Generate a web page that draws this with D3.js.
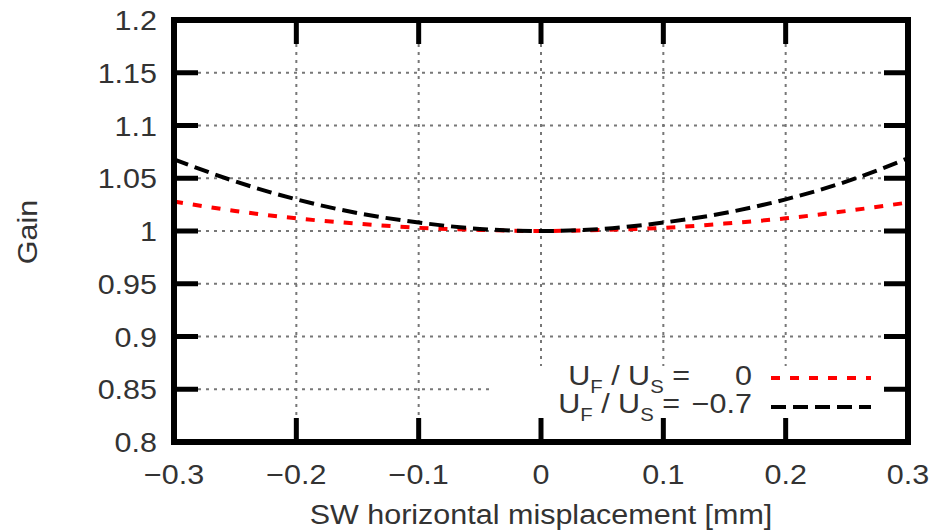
<!DOCTYPE html>
<html>
<head>
<meta charset="utf-8">
<script src="https://cdn.jsdelivr.net/npm/d3@7"></script>
<style>
  body { margin: 0; background: #fff; }
  text { font-family: "Liberation Sans", Arial, sans-serif; fill: #333; }
</style>
</head>
<body>
<svg id="chart" width="934" height="531"></svg>
<script>
// values
var xs = [-0.3, -0.25, -0.2, -0.15, -0.1, -0.05, 0, 0.05, 0.1, 0.15, 0.2, 0.25, 0.3];
var gainRed = [1.028, 1.019, 1.012, 1.007, 1.003, 1.001, 1.000, 1.001, 1.003, 1.007, 1.012, 1.019, 1.027];
var gainBlack = [1.068, 1.047, 1.030, 1.017, 1.008, 1.002, 1.000, 1.002, 1.008, 1.017, 1.030, 1.047, 1.069];
var xTicks = [-0.3, -0.2, -0.1, 0, 0.1, 0.2, 0.3];
var yTicks = [0.8, 0.85, 0.9, 0.95, 1, 1.05, 1.1, 1.15, 1.2];
var legendValues = ["0", "\u22120.7"];

var pL = 174, pR = 908, pT = 20, pB = 442;
var sx = 1.13; // reference glyphs are a little stretched sideways

var svg = d3.select("#chart");

var x = d3.scaleLinear().domain([-0.3, 0.3]).range([pL, pR]);
var y = d3.scaleLinear().domain([0.8, 1.2]).range([pB, pT]);

var fmt = function(v) { return v < 0 ? "\u2212" + Math.abs(v) : String(v); };

function label(px, py, str, anchor) {
  return svg.append("g")
    .attr("transform", "translate(" + px + "," + py + ") scale(" + sx + ",1)")
    .append("text")
    .attr("text-anchor", anchor)
    .attr("font-size", 27)
    .text(str);
}

// grid
var grid = svg.append("g")
  .attr("stroke", "#777")
  .attr("stroke-width", 2)
  .attr("stroke-dasharray", "3,5");

grid.selectAll("line.gx")
  .data(xTicks.slice(1, -1))
  .enter().append("line")
  .attr("x1", d => x(d)).attr("x2", d => x(d))
  .attr("y1", pT).attr("y2", pB);

grid.selectAll("line.gy")
  .data(yTicks.slice(1, -1))
  .enter().append("line")
  .attr("x1", pL).attr("x2", pR)
  .attr("y1", d => y(d)).attr("y2", d => y(d));

// curves
var line = d3.line()
  .x((d, i) => x(xs[i]))
  .y(d => y(d))
  .curve(d3.curveMonotoneX);

svg.append("path")
  .attr("d", line(gainRed))
  .attr("fill", "none")
  .attr("stroke", "#ff0000")
  .attr("stroke-width", 4)
  .attr("stroke-dasharray", "9,10");

svg.append("path")
  .attr("d", line(gainBlack))
  .attr("fill", "none")
  .attr("stroke", "#000")
  .attr("stroke-width", 4)
  .attr("stroke-dasharray", "15,7");

// legend box (opaque)
svg.append("rect")
  .attr("x", 494).attr("y", 366)
  .attr("width", pR - 494).attr("height", pB - 366)
  .attr("fill", "#fff");

var rows = [
  {ty: 385, ly: 378, labelEnd: 690, color: "#ff0000", dash: "9,10"},
  {ty: 413, ly: 407, labelEnd: 680, color: "#000", dash: "15,7"}
];

rows.forEach(function(r, i) {
  var t = label(r.labelEnd, r.ty, null, "end");
  t.append("tspan").text("U");
  t.append("tspan").attr("font-size", 18).attr("dy", 8).text("F");
  t.append("tspan").attr("dy", -8).text(" / U");
  t.append("tspan").attr("font-size", 18).attr("dy", 8).text("S");
  t.append("tspan").attr("dy", -8).text(" =");

  label(752, r.ty, legendValues[i], "end");

  svg.append("line")
    .attr("x1", 771).attr("x2", 871)
    .attr("y1", r.ly).attr("y2", r.ly)
    .attr("stroke", r.color)
    .attr("stroke-width", 4)
    .attr("stroke-dasharray", r.dash);
});

// ticks (inward on all four sides)
var tl = 24;
var ticks = svg.append("g").attr("stroke", "#000").attr("stroke-width", 5);

xTicks.forEach(function(d) {
  ticks.append("line").attr("x1", x(d)).attr("x2", x(d)).attr("y1", pB).attr("y2", pB - tl);
  ticks.append("line").attr("x1", x(d)).attr("x2", x(d)).attr("y1", pT).attr("y2", pT + tl);
});
yTicks.forEach(function(d) {
  ticks.append("line").attr("x1", pL).attr("x2", pL + tl).attr("y1", y(d)).attr("y2", y(d));
  ticks.append("line").attr("x1", pR).attr("x2", pR - tl).attr("y1", y(d)).attr("y2", y(d));
});

// frame
svg.append("rect")
  .attr("x", pL).attr("y", pT)
  .attr("width", pR - pL).attr("height", pB - pT)
  .attr("fill", "none")
  .attr("stroke", "#000")
  .attr("stroke-width", 6);

// tick labels
xTicks.forEach(function(d) { label(x(d), 484, fmt(d), "middle"); });
yTicks.forEach(function(d) { label(157, y(d) + 10, fmt(d), "end"); });

// axis titles
label(541, 524, "SW horizontal misplacement [mm]", "middle");

svg.append("text")
  .attr("transform", "translate(37,232) rotate(-90) scale(" + sx + ",1)")
  .attr("text-anchor", "middle")
  .attr("font-size", 27)
  .text("Gain");
</script>
</body>
</html>
